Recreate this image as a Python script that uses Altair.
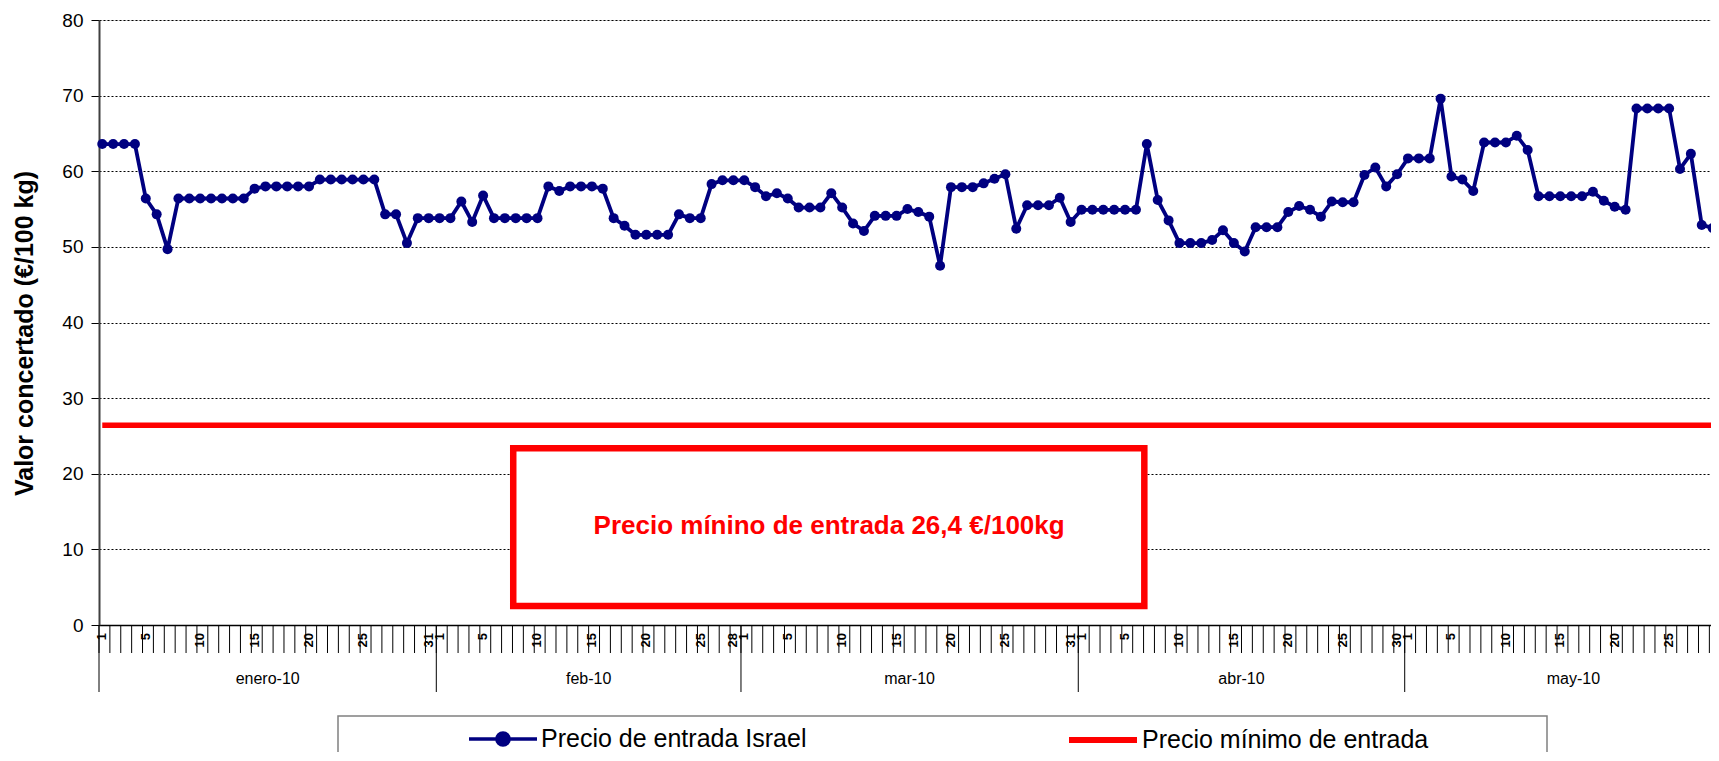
import altair as alt
import pandas as pd

# ---------------- data ----------------
fechas = pd.date_range("2010-01-01", "2010-05-29", freq="D")
precio_israel = [63.6, 63.6, 63.6, 63.6, 56.4, 54.3, 49.7, 56.4, 56.4, 56.4,
                 56.4, 56.4, 56.4, 56.4, 57.7, 58.0, 58.0, 58.0, 58.0, 58.0,
                 58.9, 58.9, 58.9, 58.9, 58.9, 58.9, 54.3, 54.3, 50.5, 53.8,
                 53.8, 53.8, 53.8, 56.0, 53.3, 56.8, 53.8, 53.8, 53.8, 53.8,
                 53.8, 58.0, 57.4, 58.0, 58.0, 58.0, 57.7, 53.8, 52.8, 51.6,
                 51.6, 51.6, 51.6, 54.3, 53.8, 53.8, 58.3, 58.8, 58.8, 58.8,
                 57.9, 56.7, 57.1, 56.4, 55.2, 55.2, 55.2, 57.1, 55.2, 53.1,
                 52.1, 54.1, 54.1, 54.1, 55.0, 54.6, 54.0, 47.5, 57.9, 57.9,
                 57.9, 58.4, 59.0, 59.6, 52.4, 55.5, 55.5, 55.5, 56.5, 53.3,
                 54.9, 54.9, 54.9, 54.9, 54.9, 54.9, 63.6, 56.2, 53.5, 50.5,
                 50.5, 50.5, 50.9, 52.2, 50.5, 49.4, 52.6, 52.6, 52.6, 54.6,
                 55.4, 54.9, 54.0, 56.0, 55.9, 55.9, 59.5, 60.5, 58.0, 59.6,
                 61.7, 61.7, 61.7, 69.6, 59.3, 58.9, 57.4, 63.8, 63.8, 63.8,
                 64.7, 62.8, 56.7, 56.7, 56.7, 56.7, 56.7, 57.3, 56.1, 55.3,
                 54.9, 68.3, 68.3, 68.3, 68.3, 60.3, 62.3, 52.9, 52.5]
precio_minimo = 26.4
series = ["Precio de entrada Israel", "Precio mínimo de entrada"]
colores = ["#000080", "#FF0000"]
meses = ["enero-10", "feb-10", "mar-10", "abr-10", "may-10"]
dias_etiqueta = [1, 5, 10, 15, 20, 25]
anotacion_texto = "Precio mínino de entrada 26,4 €/100kg"
anotacion_caja = {"d": 37.77, "d2": 95.77, "valor": 23.37, "valor2": 2.51}
anotacion_pos = {"d": 66.8, "valor": 13.1}

# ---------------- layout / style ----------------
FONT = "Liberation Sans"
W, H = 1612, 605
DESFASE = 0.3

n = len(precio_israel)
idx = list(range(n))

df_israel = pd.DataFrame({"d": idx, "valor": precio_israel})
df_minimo = pd.DataFrame({"d": idx, "valor": [precio_minimo] * n})
vacio = pd.DataFrame({"serie": pd.Series([], dtype="object")})

df_ticks = pd.DataFrame({"d": [k - DESFASE for k in idx]})

etiquetas = [(i, str(f.day)) for i, f in enumerate(fechas)
             if f.day in dias_etiqueta or f.is_month_end]
df_etq = pd.DataFrame(etiquetas, columns=["d", "texto"])

inicios = pd.date_range("2010-01-01", periods=len(meses), freq="MS")
m_ini = [(s - fechas[0]).days - DESFASE for s in inicios]
m_fin = [(s - fechas[0]).days + s.days_in_month - DESFASE for s in inicios]
df_meses = pd.DataFrame({"d": m_ini, "fin": m_fin, "mes": meses})
df_meses["medio"] = (df_meses["d"] + df_meses["fin"]) / 2

xs = alt.Scale(domain=[-DESFASE, 147.85], nice=False, zero=False)
ys = alt.Scale(domain=[0, 80], nice=False)

x_axis = alt.Axis(labels=False, ticks=False, grid=False, title=None,
                  domainColor="black", domainWidth=1.5)
y_axis = alt.Axis(values=list(range(0, 81, 10)),
                  title="Valor concertado (€/100 kg)", titleFont=FONT,
                  titleFontSize=25, titleFontWeight="bold", titleColor="black",
                  titleAngle=270, titleAlign="center", titleBaseline="middle",
                  titleX=-75, titleY=313,
                  labelFont=FONT, labelFontSize=19, labelColor="black",
                  labelPadding=8, tickSize=8, tickColor="black",
                  domainColor="#404040", domainWidth=2,
                  grid=True, gridColor="black", gridDash=[2, 2], gridWidth=1)

path_israel = "M-1,0L1,0M-0.18,0A0.18,0.18,0,1,1,0.18,0A0.18,0.18,0,1,1,-0.18,0Z"
comun_ley = dict(title=None, orient="none", legendY=683, symbolSize=4624,
                 labelFont=FONT, labelFontSize=25, labelColor="black",
                 labelLimit=1000, labelOffset=2, padding=0)

linea_israel = alt.Chart(df_israel).mark_line(
    color=colores[0], strokeWidth=3.8, strokeJoin="round").encode(
    x=alt.X("d:Q", scale=xs, axis=x_axis),
    y=alt.Y("valor:Q", scale=ys, axis=y_axis),
)
puntos = alt.Chart(df_israel).mark_circle(size=100, opacity=1,
                                          color=colores[0]).encode(
    x="d:Q", y="valor:Q")
linea_minimo = alt.Chart(df_minimo).mark_line(
    color=colores[1], strokeWidth=5.5).encode(x="d:Q", y="valor:Q")

ley1 = alt.Chart(vacio).mark_point(filled=True, stroke=colores[0],
                                   strokeWidth=3.5, opacity=1).encode(
    fill=alt.Fill("serie:N",
                  scale=alt.Scale(domain=[series[0]], range=[colores[0]]),
                  legend=alt.Legend(legendX=368, symbolType=path_israel,
                                    symbolStrokeColor=colores[0],
                                    symbolStrokeWidth=3.5, **comun_ley)))
ley2 = alt.Chart(vacio).mark_line(strokeWidth=6, opacity=1).encode(
    stroke=alt.Stroke("serie:N",
                      scale=alt.Scale(domain=[series[1]], range=[colores[1]]),
                      legend=alt.Legend(legendX=967, symbolType="M-1,0L1,0",
                                        symbolStrokeWidth=6, **comun_ley)))

ticks = alt.Chart(df_ticks).mark_rule(color="black", strokeWidth=1).encode(
    x="d:Q", y=alt.value(H), y2=alt.value(H + 28))

divisiones = alt.Chart(df_meses).mark_rule(color="black", strokeWidth=1).encode(
    x="d:Q", y=alt.value(H), y2=alt.value(H + 67))

etq = alt.Chart(df_etq).mark_text(angle=270, align="right", baseline="middle",
                                  font=FONT, fontSize=13, fontWeight="bold",
                                  color="black").encode(
    x="d:Q", y=alt.value(H + 8), text="texto:N")

mes_txt = alt.Chart(df_meses).mark_text(font=FONT, fontSize=16,
                                        baseline="middle", color="black").encode(
    x="medio:Q", y=alt.value(H + 54), text="mes:N")

caja = alt.Chart(pd.DataFrame([anotacion_caja])).mark_rect(
    fill="white", stroke="#FF0000", strokeWidth=6.5).encode(
    x="d:Q", x2=alt.X2("d2"), y="valor:Q", y2=alt.Y2("valor2"))

texto = alt.Chart(pd.DataFrame([{**anotacion_pos, "texto": anotacion_texto}])).mark_text(
    font=FONT, fontSize=26, fontWeight="bold", color="#FF0000",
    baseline="middle").encode(x="d:Q", y="valor:Q", text="texto:N")

marco = alt.Chart(pd.DataFrame([{"k": 0}])).mark_rect(
    fill="transparent", stroke="#808080", strokeWidth=1.5).encode(
    x=alt.value(239), x2=alt.value(1448), y=alt.value(696), y2=alt.value(770))

chart = alt.layer(linea_israel, caja, texto, linea_minimo, puntos, ticks,
                  divisiones, etq, mes_txt, marco, ley1, ley2).properties(
    width=W, height=H,
    autosize=alt.AutoSizeParams(type="none"),
    padding={"left": 91, "top": 12, "right": 0, "bottom": 127},
).resolve_legend(fill="independent", stroke="independent"
).configure_view(stroke=None).configure(font=FONT)

chart.save("out.html", embed_options={"renderer": "svg", "actions": False})
